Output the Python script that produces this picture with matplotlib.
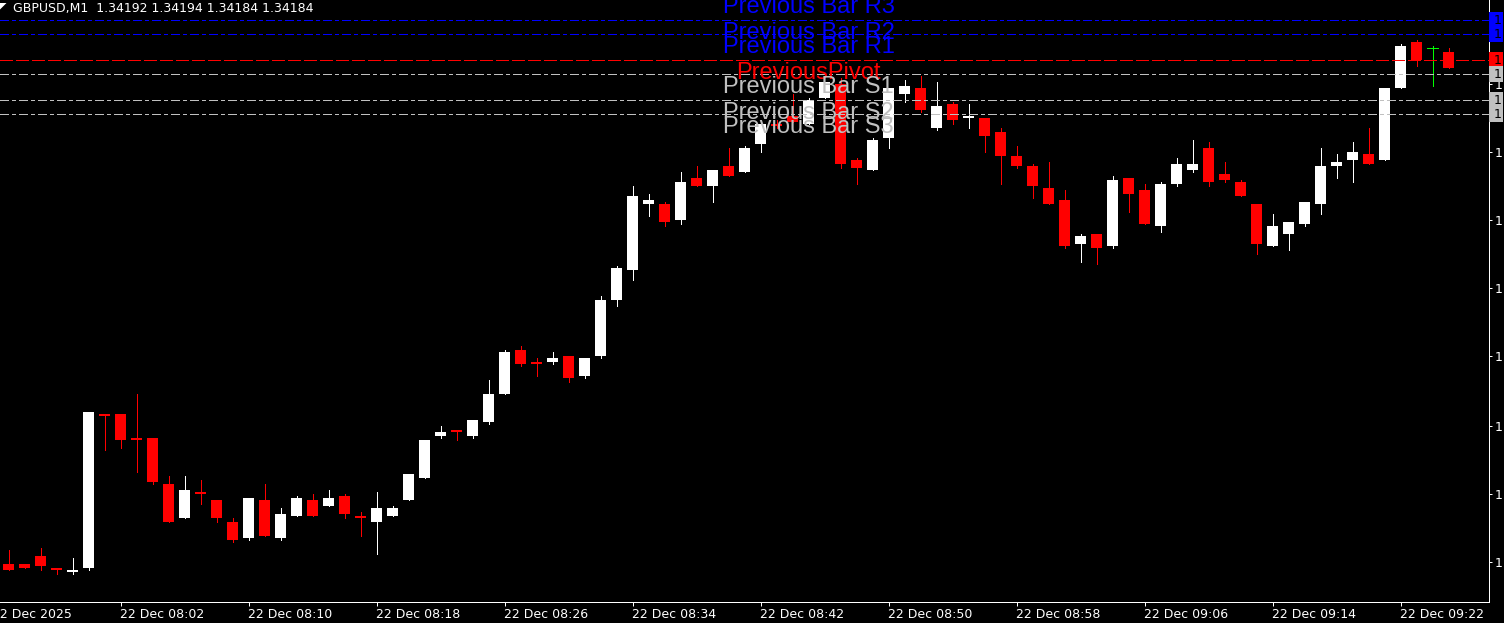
import matplotlib
matplotlib.use('Agg')
from matplotlib import pyplot as plt
from matplotlib.patches import Polygon
import pandas as pd


###data: GBPUSD M1 bars###

symbol = 'GBPUSD,M1'
times = pd.date_range('2025-12-22 07:55', periods=91, freq='min')

opens = [1.33936, 1.33936, 1.33940, 1.33934, 1.33932, 1.33934, 1.34011, 1.34011, 1.33999, 1.33999,
         1.33976, 1.33959, 1.33972, 1.33968, 1.33957, 1.33949, 1.33968, 1.33949, 1.33960, 1.33968,
         1.33965, 1.33970, 1.33960, 1.33957, 1.33960, 1.33968, 1.33979, 1.34000, 1.34003, 1.34000,
         1.34007, 1.34021, 1.34043, 1.34037, 1.34037, 1.34040, 1.34030, 1.34040, 1.34068, 1.34083,
         1.34116, 1.34116, 1.34108, 1.34129, 1.34125, 1.34135, 1.34132, 1.34146, 1.34156, 1.34160,
         1.34156, 1.34169, 1.34176, 1.34138, 1.34133, 1.34149, 1.34171, 1.34174, 1.34154, 1.34166,
         1.34159, 1.34159, 1.34152, 1.34140, 1.34135, 1.34124, 1.34118, 1.34096, 1.34101, 1.34095,
         1.34129, 1.34123, 1.34105, 1.34126, 1.34133, 1.34144, 1.34131, 1.34127, 1.34116, 1.34095,
         1.34101, 1.34106, 1.34116, 1.34135, 1.34138, 1.34141, 1.34138, 1.34174, 1.34197, 1.34194,
         1.34192]
highs = [1.33943, 1.33936, 1.33944, 1.33934, 1.33939, 1.34012, 1.34011, 1.34011, 1.34021, 1.33999,
         1.33980, 1.33980, 1.33978, 1.33968, 1.33959, 1.33969, 1.33976, 1.33964, 1.33970, 1.33971,
         1.33973, 1.33971, 1.33962, 1.33972, 1.33965, 1.33981, 1.33998, 1.34005, 1.34003, 1.34008,
         1.34028, 1.34043, 1.34045, 1.34039, 1.34042, 1.34040, 1.34039, 1.34070, 1.34085, 1.34125,
         1.34121, 1.34117, 1.34132, 1.34135, 1.34133, 1.34144, 1.34145, 1.34158, 1.34158, 1.34171,
         1.34169, 1.34177, 1.34179, 1.34139, 1.34149, 1.34174, 1.34178, 1.34180, 1.34177, 1.34167,
         1.34166, 1.34159, 1.34154, 1.34145, 1.34136, 1.34137, 1.34123, 1.34101, 1.34101, 1.34130,
         1.34129, 1.34126, 1.34127, 1.34139, 1.34148, 1.34147, 1.34137, 1.34128, 1.34116, 1.34111,
         1.34107, 1.34117, 1.34144, 1.34141, 1.34147, 1.34154, 1.34174, 1.34196, 1.34198, 1.34195,
         1.34194]
lows = [1.33933, 1.33934, 1.33933, 1.33931, 1.33931, 1.33933, 1.33993, 1.33994, 1.33982, 1.33976,
        1.33957, 1.33959, 1.33966, 1.33957, 1.33947, 1.33948, 1.33950, 1.33948, 1.33960, 1.33960,
        1.33965, 1.33959, 1.33950, 1.33941, 1.33960, 1.33968, 1.33979, 1.33999, 1.33998, 1.33999,
        1.34006, 1.34021, 1.34035, 1.34030, 1.34036, 1.34027, 1.34029, 1.34039, 1.34065, 1.34078,
        1.34110, 1.34105, 1.34106, 1.34125, 1.34117, 1.34130, 1.34132, 1.34142, 1.34154, 1.34157,
        1.34156, 1.34169, 1.34134, 1.34126, 1.34133, 1.34144, 1.34167, 1.34162, 1.34153, 1.34156,
        1.34154, 1.34142, 1.34126, 1.34134, 1.34119, 1.34116, 1.34094, 1.34087, 1.34086, 1.34094,
        1.34112, 1.34106, 1.34102, 1.34125, 1.34132, 1.34125, 1.34127, 1.34120, 1.34091, 1.34095,
        1.34093, 1.34105, 1.34111, 1.34129, 1.34127, 1.34136, 1.34138, 1.34174, 1.34185, 1.34175,
        1.34184]
closes = [1.33933, 1.33934, 1.33935, 1.33933, 1.33933, 1.34012, 1.34010, 1.33998, 1.33998, 1.33977,
          1.33957, 1.33973, 1.33971, 1.33959, 1.33948, 1.33969, 1.33950, 1.33961, 1.33969, 1.33960,
          1.33969, 1.33961, 1.33959, 1.33964, 1.33964, 1.33981, 1.33998, 1.34002, 1.34002, 1.34008,
          1.34021, 1.34042, 1.34036, 1.34036, 1.34039, 1.34029, 1.34039, 1.34068, 1.34084, 1.34120,
          1.34118, 1.34107, 1.34127, 1.34125, 1.34133, 1.34130, 1.34144, 1.34156, 1.34155, 1.34157,
          1.34168, 1.34177, 1.34136, 1.34134, 1.34148, 1.34174, 1.34175, 1.34163, 1.34165, 1.34158,
          1.34160, 1.34150, 1.34140, 1.34135, 1.34125, 1.34116, 1.34095, 1.34100, 1.34094, 1.34128,
          1.34121, 1.34106, 1.34126, 1.34136, 1.34136, 1.34127, 1.34128, 1.34120, 1.34096, 1.34105,
          1.34107, 1.34117, 1.34135, 1.34137, 1.34142, 1.34136, 1.34174, 1.34195, 1.34188, 1.34194,
          1.34184]

# price scale shown on the right (window is cut, only the leading "1" shows)
price_ticks = [1.34210, 1.34176, 1.34142, 1.34108, 1.34074, 1.34040, 1.34005, 1.33971, 1.33937]
price_tick_labels = ['1'] * len(price_ticks)
# one time label every 8 bars
time_tick_idx = list(range(7, len(times), 8))


###pivot levels from the previous bar###

ph, pl, pc = highs[-2], lows[-2], closes[-2]
pivot = (ph + pl + pc) / 3
r1 = 2 * pivot - pl
s1 = 2 * pivot - ph
r2 = pivot + (ph - pl)
s2 = pivot - (ph - pl)
r3 = ph + 2 * (pivot - pl)
s3 = pl - 2 * (ph - pivot)

levels = [
    (r3, 'Previous Bar R3', '#0000ff', (9, 3, 3, 3)),
    (r2, 'Previous Bar R2', '#0000ff', (9, 3, 3, 3)),
    (r1, 'Previous Bar R1', '#0000ff', (9, 3, 3, 3)),
    (pivot, 'PreviousPivot', '#ff0000', (12, 4)),
    (s1, 'Previous Bar S1', '#c0c0c0', (9, 3, 3, 3)),
    (s2, 'Previous Bar S2', '#c0c0c0', (9, 3, 3, 3)),
    (s3, 'Previous Bar S3', '#c0c0c0', (9, 3, 3, 3)),
]


###graph###

plt.rcParams['font.family'] = 'DejaVu Sans'

W, H = 1504, 623
fig = plt.figure(figsize=(W / 100, H / 100), dpi=100, facecolor='black')
ax = fig.add_axes([0, (H - 601.5) / H, 1488.5 / W, 601.5 / H], facecolor='black')

px = 0.72  # one pixel in points
body_w = 11 / 16

up_color, down_color, doji_color = '#ffffff', '#ff0000', '#00ff00'
for i in range(len(closes)):
    o, h, l, c = opens[i], highs[i], lows[i], closes[i]
    if c > o:
        col = up_color
    elif c < o:
        col = down_color
    else:
        col = doji_color
    ax.vlines(i, l, h, colors=col, lw=px, antialiased=False, zorder=1)
    if c == o:
        ax.hlines(o, i - body_w / 2, i + body_w / 2, colors=col, lw=px, antialiased=False, zorder=2)
    else:
        ax.bar(i, abs(c - o), bottom=min(o, c), width=body_w, color=col,
               linewidth=0, antialiased=False, zorder=2)

top_price = 1.34218
ax.set_xlim(-8.5 / 16, (1488.5 - 8.5) / 16)
ax.set_ylim(top_price - 601.5 * 0.000005, top_price)

# pivot lines + labels + price boxes
for level, name, col, dash in levels:
    ax.axhline(level, color=col, lw=px, dashes=dash, antialiased=False, zorder=3)
    ax.annotate(name, xy=(50, level), xytext=(0, -19), textcoords='offset pixels',
                ha='center', va='baseline', color=col, fontsize=17,
                family='Liberation Sans', zorder=5, annotation_clip=False)
    if ax.get_ylim()[0] < level < ax.get_ylim()[1]:
        ax.annotate(' 1', xy=(1, level), xycoords=('axes fraction', 'data'),
                    xytext=(1.5, 0), textcoords='offset pixels', ha='left', va='center',
                    fontsize=9, color='black', annotation_clip=False,
                    bbox=dict(boxstyle='square,pad=0.12', fc=col, ec='none'))

# axes style like the terminal
for side in ['top', 'left']:
    ax.spines[side].set_visible(False)
for side in ['right', 'bottom']:
    ax.spines[side].set_color('white')
    ax.spines[side].set_linewidth(px)

ax.yaxis.tick_right()
ax.set_yticks(price_ticks)
ax.set_yticklabels(price_tick_labels)
ax.tick_params(axis='y', colors='white', length=3 * px, width=px, pad=2.6, labelsize=9)

ax.set_xticks(time_tick_idx)
ax.set_xticklabels([])
ax.tick_params(axis='x', colors='white', length=4 * px, width=px)

time_labels = [(-1, times[0].strftime('%d %b %Y'))]
time_labels += [(i, times[i].strftime('%d %b %H:%M')) for i in time_tick_idx]
for i, lab in time_labels:
    ax.annotate(lab, xy=(i, 0), xycoords=('data', 'axes fraction'), xytext=(-1, -17),
                textcoords='offset pixels', ha='left', va='baseline', fontsize=9,
                color='white', annotation_clip=False)

# title line in the top left corner
o, h, l, c = opens[-1], highs[-1], lows[-1], closes[-1]
fig.text(12.6 / W, 1 - 11.7 / H, '%s  %.5f %.5f %.5f %.5f' % (symbol, o, h, l, c),
         color='white', fontsize=9, va='baseline', ha='left')
fig.patches.append(Polygon([(0, H - 3), (6.5, H - 3), (0, H - 9.5)], closed=True,
                           transform=None, fc='white', ec='none'))

plt.savefig('out.png', dpi=100, facecolor='black')
